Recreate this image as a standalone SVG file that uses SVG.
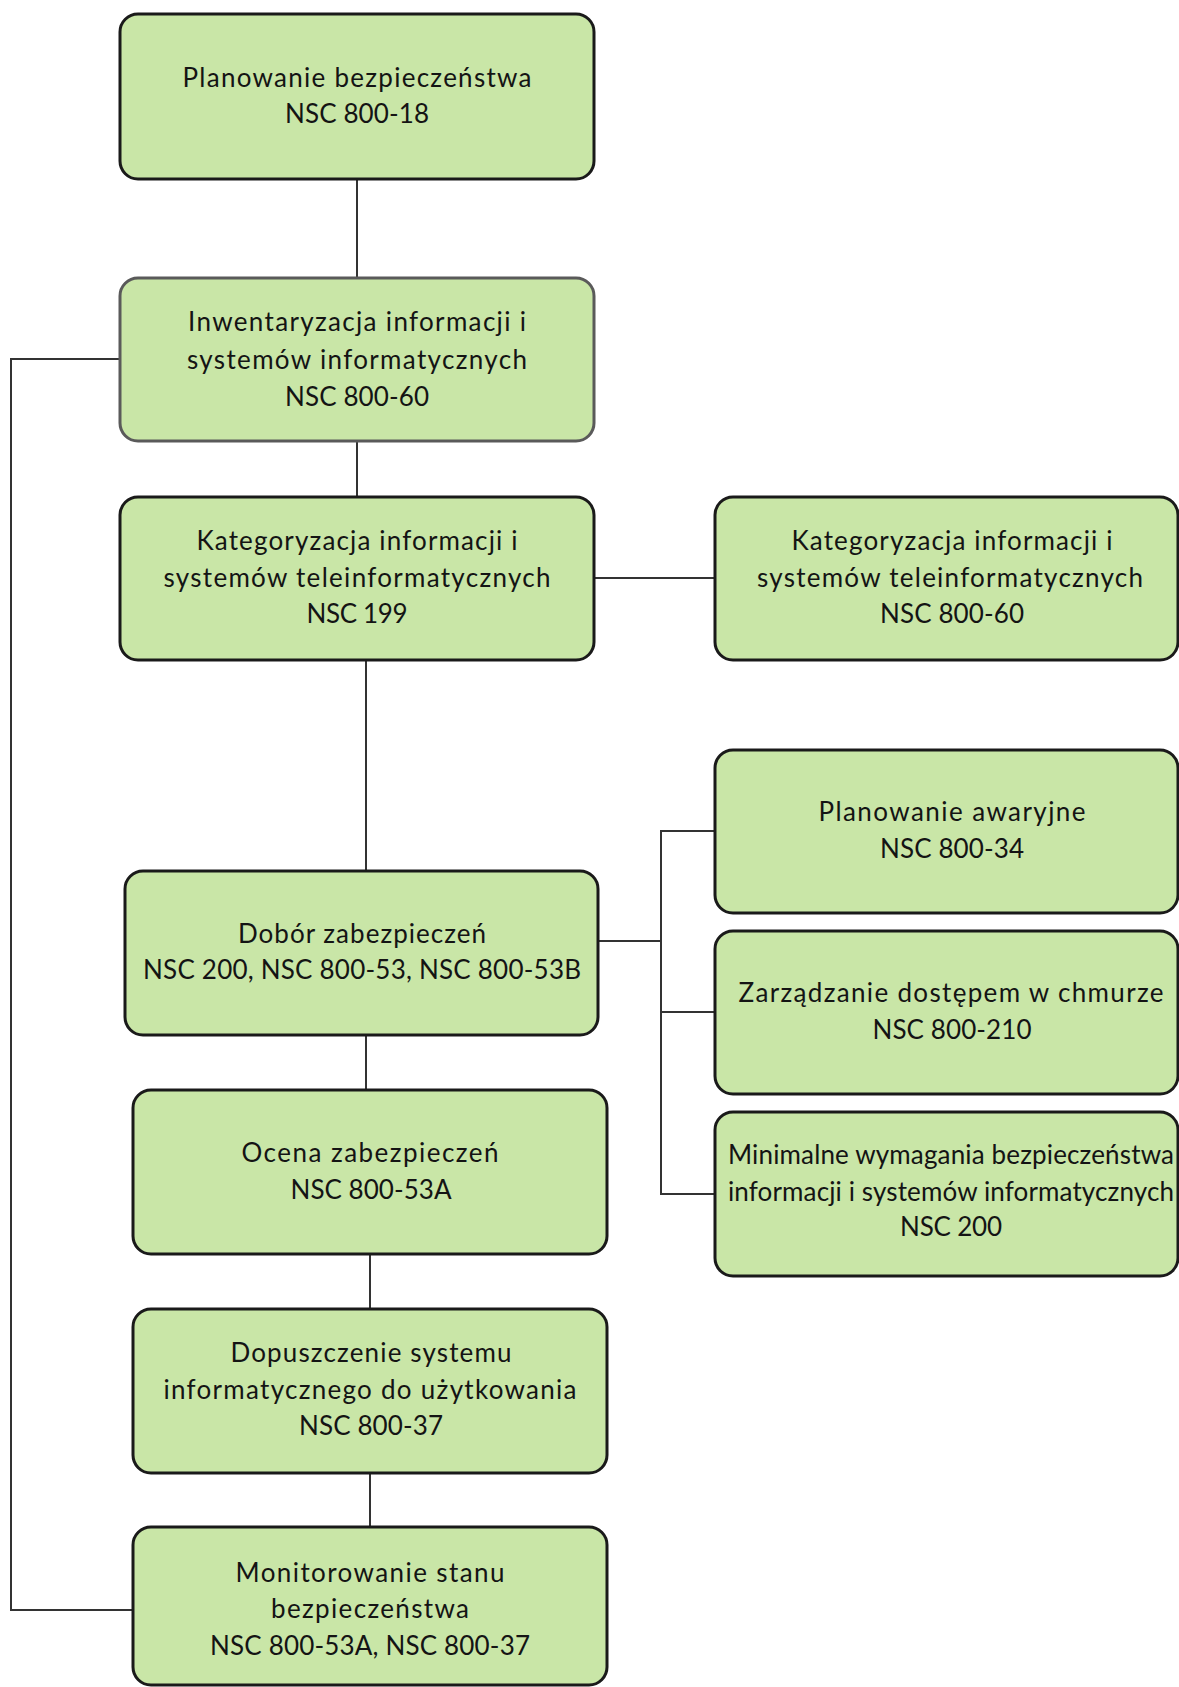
<svg xmlns="http://www.w3.org/2000/svg" width="1179" height="1687" viewBox="0 0 1179 1687">
<style>
.box{fill:#c9e6a7;stroke:#1a1a1a;stroke-width:3}
.box.gray{stroke:#5a5a5a}
.t{font-family:Lato,"Liberation Sans",sans-serif;font-size:26px;fill:#141414;text-anchor:middle}
.c{fill:none;stroke:#333;stroke-width:2}
</style>
<rect width="1179" height="1687" fill="#ffffff"/>
<g id="connectors">
<line class="c" x1="357" y1="179" x2="357" y2="278"/>
<line class="c" x1="357" y1="441" x2="357" y2="497"/>
<line class="c" x1="594" y1="578" x2="715" y2="578"/>
<line class="c" x1="366" y1="660" x2="366" y2="871"/>
<line class="c" x1="366" y1="1035" x2="366" y2="1090"/>
<line class="c" x1="370" y1="1254" x2="370" y2="1309"/>
<line class="c" x1="370" y1="1473" x2="370" y2="1527"/>
<polyline class="c" points="120,359 11,359 11,1610 133,1610"/>
<line class="c" x1="598" y1="941" x2="661" y2="941"/>
<polyline class="c" points="715,831 661,831 661,1194 715,1194"/>
<line class="c" x1="661" y1="1012" x2="715" y2="1012"/>
</g>
<g id="n1">
<rect class="box" x="120" y="14" width="474" height="165" rx="18"/>
<text class="t" x="357" y="87" textLength="349" lengthAdjust="spacing">Planowanie bezpieczeństwa</text>
<text class="t" x="357" y="123" textLength="144" lengthAdjust="spacing">NSC 800-18</text>
</g>
<g id="n2">
<rect class="box gray" x="120" y="278" width="474" height="163" rx="18"/>
<text class="t" x="357" y="331" textLength="338" lengthAdjust="spacing">Inwentaryzacja informacji i</text>
<text class="t" x="357" y="369" textLength="340" lengthAdjust="spacing">systemów informatycznych</text>
<text class="t" x="357" y="406" textLength="144" lengthAdjust="spacing">NSC 800-60</text>
</g>
<g id="n3">
<rect class="box" x="120" y="497" width="474" height="163" rx="18"/>
<text class="t" x="357" y="550" textLength="321" lengthAdjust="spacing">Kategoryzacja informacji i</text>
<text class="t" x="357" y="587" textLength="387" lengthAdjust="spacing">systemów teleinformatycznych</text>
<text class="t" x="357" y="623" textLength="101" lengthAdjust="spacing">NSC 199</text>
</g>
<g id="n4">
<rect class="box" x="715" y="497" width="463" height="163" rx="18"/>
<text class="t" x="952" y="550" textLength="321" lengthAdjust="spacing">Kategoryzacja informacji i</text>
<text class="t" x="950" y="587" textLength="386" lengthAdjust="spacing">systemów teleinformatycznych</text>
<text class="t" x="952" y="623" textLength="144" lengthAdjust="spacing">NSC 800-60</text>
</g>
<g id="n5">
<rect class="box" x="715" y="750" width="463" height="163" rx="18"/>
<text class="t" x="952" y="821" textLength="267" lengthAdjust="spacing">Planowanie awaryjne</text>
<text class="t" x="952" y="858" textLength="144" lengthAdjust="spacing">NSC 800-34</text>
</g>
<g id="n6">
<rect class="box" x="715" y="931" width="463" height="163" rx="18"/>
<text class="t" x="951" y="1002" textLength="425" lengthAdjust="spacing">Zarządzanie dostępem w chmurze</text>
<text class="t" x="952" y="1039" textLength="159" lengthAdjust="spacing">NSC 800-210</text>
</g>
<g id="n7">
<rect class="box" x="715" y="1112" width="463" height="164" rx="18"/>
<text class="t" x="951" y="1164" textLength="446" lengthAdjust="spacing">Minimalne wymagania bezpieczeństwa</text>
<text class="t" x="951" y="1201" textLength="446" lengthAdjust="spacing">informacji i systemów informatycznych</text>
<text class="t" x="951" y="1236" textLength="102" lengthAdjust="spacing">NSC 200</text>
</g>
<g id="n8">
<rect class="box" x="125" y="871" width="473" height="164" rx="18"/>
<text class="t" x="362" y="943" textLength="248" lengthAdjust="spacing">Dobór zabezpieczeń</text>
<text class="t" x="362" y="979" textLength="438" lengthAdjust="spacing">NSC 200, NSC 800-53, NSC 800-53B</text>
</g>
<g id="n9">
<rect class="box" x="133" y="1090" width="474" height="164" rx="18"/>
<text class="t" x="370" y="1162" textLength="257" lengthAdjust="spacing">Ocena  zabezpieczeń</text>
<text class="t" x="371" y="1199" textLength="161" lengthAdjust="spacing">NSC 800-53A</text>
</g>
<g id="n10">
<rect class="box" x="133" y="1309" width="474" height="164" rx="18"/>
<text class="t" x="371" y="1362" textLength="281" lengthAdjust="spacing">Dopuszczenie systemu</text>
<text class="t" x="370" y="1399" textLength="413" lengthAdjust="spacing">informatycznego do użytkowania</text>
<text class="t" x="371" y="1435" textLength="144" lengthAdjust="spacing">NSC 800-37</text>
</g>
<g id="n11">
<rect class="box" x="133" y="1527" width="474" height="158" rx="18"/>
<text class="t" x="370" y="1582" textLength="269" lengthAdjust="spacing">Monitorowanie stanu</text>
<text class="t" x="370" y="1618" textLength="198" lengthAdjust="spacing">bezpieczeństwa</text>
<text class="t" x="370" y="1655" textLength="320" lengthAdjust="spacing">NSC 800-53A, NSC 800-37</text>
</g>
</svg>
